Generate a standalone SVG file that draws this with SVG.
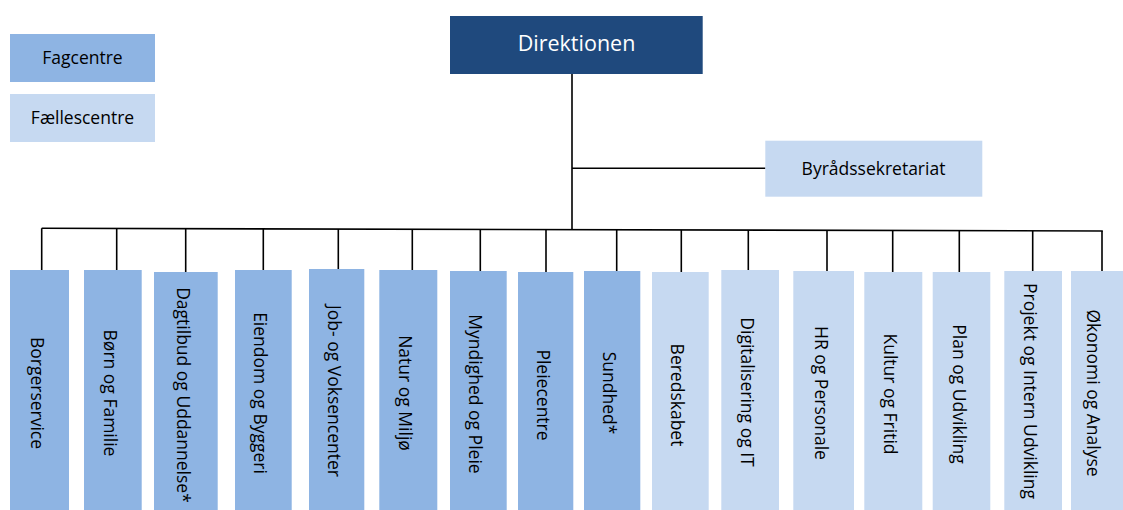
<svg xmlns="http://www.w3.org/2000/svg" width="1123" height="510" viewBox="0 0 1123 510">
<style>
.fag{fill:#8EB4E3}
.fael{fill:#C6D9F1}
.dir{fill:#1F497D}
.t{font-family:"Open Sans","Liberation Sans",sans-serif;font-size:17.5px;fill:#000}
.tw{font-family:"Open Sans","Liberation Sans",sans-serif;font-size:21.5px;fill:#fff}
.c{stroke:#000;stroke-width:1.6;fill:none}
</style>
<rect width="1123" height="510" fill="#fff"/>
<g id="legend-fagcentre"><rect class="fag" x="10" y="34" width="145" height="48"/><text class="t" x="82.5" y="64" text-anchor="middle">Fagcentre</text></g>
<g id="legend-faellescentre"><rect class="fael" x="10" y="94" width="145" height="48"/><text class="t" x="82.5" y="124" text-anchor="middle">Fællescentre</text></g>
<g id="connectors">
<path class="c" d="M572 74V230M572 168.3H765.5"/>
<path class="c" d="M41.7 228.3L1102.8 231"/>
<path class="c" d="M41.7 228.3V270M116.7 228.5V270M185.7 228.7V272M263.3 228.9V270M338.3 229.1V269M412.3 229.3V270M480.3 229.5V271M546 229.6V272M616.7 229.8V271M681.3 230V272M748.3 230.2V270M827 230.4V271M892.7 230.5V272M959.3 230.7V272M1032.7 230.9V271M1102 231V271"/>
</g>
<g id="direktionen"><rect class="dir" x="450" y="16" width="252.7" height="58"/><text class="tw" x="576.5" y="51" text-anchor="middle">Direktionen</text></g>
<g id="byraadssekretariat"><rect class="fael" x="765.3" y="140.7" width="217" height="56"/><text class="t" x="873.5" y="174.5" text-anchor="middle">Byrådssekretariat</text></g>
<g id="borgerservice"><rect class="fag" x="10" y="270" width="59" height="240"/><text class="t" text-anchor="middle" transform="translate(30.5 393) rotate(90)">Borgerservice</text></g>
<g id="boern-og-familie"><rect class="fag" x="84" y="270" width="57.7" height="240"/><text class="t" text-anchor="middle" transform="translate(103.8 393) rotate(90)">Børn og Familie</text></g>
<g id="dagtilbud"><rect class="fag" x="154" y="272" width="63.7" height="238"/><text class="t" text-anchor="middle" transform="translate(176.8 395) rotate(90)">Dagtilbud og Uddannelse*</text></g>
<g id="eiendom"><rect class="fag" x="235" y="270" width="56.7" height="240"/><text class="t" text-anchor="middle" transform="translate(254.3 393) rotate(90)">Eiendom og Byggeri</text></g>
<g id="job"><rect class="fag" x="309" y="269" width="55.3" height="241"/><text class="t" text-anchor="middle" transform="translate(327.7 391) rotate(90)">Job- og Voksencenter</text></g>
<g id="natur"><rect class="fag" x="379.3" y="270" width="58" height="240"/><text class="t" text-anchor="middle" transform="translate(399.3 393) rotate(90)">Natur og Miljø</text></g>
<g id="myndighed"><rect class="fag" x="450" y="271" width="56.7" height="239"/><text class="t" text-anchor="middle" transform="translate(469.3 394) rotate(90)">Myndighed og Pleie</text></g>
<g id="pleiecentre"><rect class="fag" x="518" y="272" width="55.3" height="238"/><text class="t" text-anchor="middle" transform="translate(536.7 395) rotate(90)">Pleiecentre</text></g>
<g id="sundhed"><rect class="fag" x="584" y="271" width="56.3" height="239"/><text class="t" text-anchor="middle" transform="translate(603 393) rotate(90)">Sundhed*</text></g>
<g id="beredskabet"><rect class="fael" x="652" y="272" width="56.7" height="238"/><text class="t" text-anchor="middle" transform="translate(671.3 395) rotate(90)">Beredskabet</text></g>
<g id="digitalisering"><rect class="fael" x="721.3" y="270" width="57.7" height="240"/><text class="t" text-anchor="middle" transform="translate(741.1 392) rotate(90)">Digitalisering og IT</text></g>
<g id="hr"><rect class="fael" x="793.3" y="271" width="60.7" height="239"/><text class="t" text-anchor="middle" transform="translate(814.7 393) rotate(90)">HR og Personale</text></g>
<g id="kultur"><rect class="fael" x="864.3" y="272" width="58" height="238"/><text class="t" text-anchor="middle" transform="translate(884.3 394) rotate(90)">Kultur og Fritid</text></g>
<g id="plan"><rect class="fael" x="932.7" y="272" width="57.6" height="238"/><text class="t" text-anchor="middle" transform="translate(952.5 394) rotate(90)">Plan og Udvikling</text></g>
<g id="projekt"><rect class="fael" x="1004.3" y="271" width="57.7" height="239"/><text class="t" text-anchor="middle" transform="translate(1024.1 391) rotate(90)">Projekt og Intern Udvikling</text></g>
<g id="oekonomi"><rect class="fael" x="1071" y="271" width="52" height="239"/><text class="t" text-anchor="middle" transform="translate(1087 393) rotate(90)">Økonomi og Analyse</text></g>
</svg>
